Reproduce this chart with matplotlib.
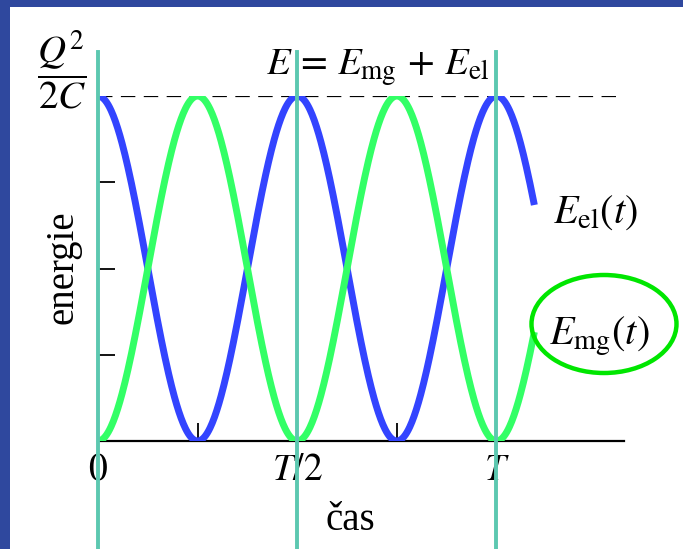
import matplotlib.pyplot as plt
import numpy as np
from matplotlib.patches import Ellipse, Rectangle

plt.rcParams["font.family"] = ["Liberation Serif", "DejaVu Serif"]
plt.rcParams["mathtext.fontset"] = "stix"

# time in units of the period T, energy in units of Q^2/2C
t_end = 1.095
t_max = 1.32
marker_times = [0.0, 0.5, 1.0]
y_ticks = [0.25, 0.5, 0.75]
x_ticks = [0.0, 0.25, 0.5, 0.75, 1.0]
x_tick_labels = ["$0$", "", "$T/2$", "", "$T$"]
total_energy = 1.0

W, H = 683, 549
blue = "#3344ff"
green = "#33ff66"
teal = "#5cc8b0"

fig = plt.figure(figsize=(W / 100, H / 100), dpi=100)
fig.patch.set_facecolor("#2f489e")
fig.patches.append(Rectangle((10 / W, 0), 1, 1 - 7 / H, transform=fig.transFigure,
                             facecolor="white", edgecolor="none", zorder=-10))

ax_left, ax_right, ax_bottom, ax_top = 98, 624, 441, 96
ax = fig.add_axes([ax_left / W, 1 - ax_bottom / H, (ax_right - ax_left) / W,
                   (ax_bottom - ax_top) / H])
ax.patch.set_alpha(0)
ax.set_xlim(0, t_max)
ax.set_ylim(0, 1)

t = np.linspace(0, t_end, 600)
E_el = total_energy * np.cos(2 * np.pi * t) ** 2
E_mg = total_energy - E_el
ax.plot(t, E_el, color=blue, lw=5, solid_capstyle="butt", zorder=3)
ax.plot(t, E_mg, color=green, lw=5, solid_capstyle="butt", zorder=3)

ax.axhline(total_energy, color="black", lw=1.6, ls=(0, (6.5, 3.8)), zorder=2)

# vertical markers reaching past the axes
y_lo = -(H - ax_bottom) / (ax_bottom - ax_top)
y_hi = (ax_bottom - 52) / (ax_bottom - ax_top)
for tm in marker_times:
    ax.plot([tm, tm], [y_lo, y_hi], color=teal, lw=2.8, clip_on=False, zorder=4)

for side in ["top", "right", "left"]:
    ax.spines[side].set_visible(False)
ax.spines["bottom"].set_linewidth(1.6)
ax.set_yticks(y_ticks)
ax.set_yticklabels([])
ax.tick_params(axis="y", direction="in", length=12, width=1.3, left=True)
ax.set_xticks(x_ticks)
ax.set_xticklabels(x_tick_labels, fontsize=27)
ax.tick_params(axis="x", direction="in", length=13, width=1.3, pad=9)

fig.text(62 / W, 1 - 70 / H, r"$\dfrac{Q^2}{2C}$", fontsize=28, ha="center", va="center")
fig.text(63 / W, 1 - 267 / H, "energie", fontsize=28, rotation=90, ha="center", va="center")
fig.text(350 / W, 1 - 520 / H, "čas", fontsize=28, ha="center", va="center")
fig.text(378 / W, 1 - 68 / H, r"$E\,=\,E_{\mathrm{mg}}\,+\,E_{\mathrm{el}}$", fontsize=28,
         ha="center", va="center")
fig.text(553 / W, 1 - 213 / H, r"$E_{\mathrm{el}}(t)$", fontsize=29, ha="left", va="center")
fig.text(549 / W, 1 - 336 / H, r"$E_{\mathrm{mg}}(t)$", fontsize=29, ha="left", va="center")

fig.patches.append(Ellipse((604 / W, 1 - 324 / H), 145 / W, 98 / H, transform=fig.transFigure,
                           fill=False, edgecolor="#00e600", lw=3.2, zorder=5))

fig.savefig("out.png", dpi=100, facecolor=fig.get_facecolor())
